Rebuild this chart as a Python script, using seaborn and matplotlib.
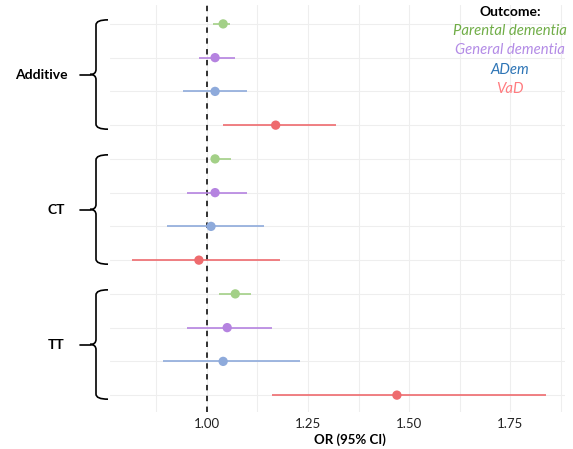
"""
Forest plot: OR (95% CI) per modello genetico ed esito.
"""

import matplotlib.pyplot as plt
import matplotlib.transforms as mtransforms
import numpy as np
import pandas as pd
import seaborn as sns
from matplotlib.path import Path
from matplotlib.patches import PathPatch

# Dati
models = ["Additive", "CT", "TT"]
outcomes = ["Parental dementia", "General dementia", "ADem", "VaD"]

or_additive = [1.04, 1.02, 1.02, 1.17]
lo_additive = [1.015, 0.98, 0.94, 1.04]
hi_additive = [1.057, 1.07, 1.10, 1.32]

or_ct = [1.02, 1.02, 1.01, 0.98]
lo_ct = [1.01, 0.95, 0.90, 0.815]
hi_ct = [1.06, 1.10, 1.14, 1.18]

or_tt = [1.07, 1.05, 1.04, 1.47]
lo_tt = [1.03, 0.95, 0.89, 1.16]
hi_tt = [1.11, 1.16, 1.23, 1.84]

x_ticks = [1.00, 1.25, 1.50, 1.75]

point_colors = ["#a3d087", "#b583e0", "#8eaadb", "#ee6b6e"]
legend_colors = ["#70ad47", "#b38be6", "#2e75b6", "#ff7c80"]

rows = []
for g, (m, ors, los, his) in enumerate(
    zip(models, [or_additive, or_ct, or_tt], [lo_additive, lo_ct, lo_tt], [hi_additive, hi_ct, hi_tt])
):
    for k, out in enumerate(outcomes):
        rows.append({"model": m, "outcome": out, "OR": ors[k], "lo": los[k], "hi": his[k], "pos": g * 4 + k})
df = pd.DataFrame(rows)

sns.set_theme(style="white")
plt.rcParams["font.family"] = ["Lato", "DejaVu Sans"]
plt.rcParams["text.color"] = "black"

W, H = 573, 449
fig = plt.figure(figsize=(W / 100, H / 100), dpi=100)
ax = fig.add_axes([110 / W, 1 - 412 / H, (565 - 110) / W, (412 - 5) / H])

# Griglia
for p in df["pos"]:
    ax.axhline(p, color="#eeeeee", lw=0.8, zorder=0)
for xv in np.arange(0.875, 1.9, 0.125):
    ax.axvline(xv, color="#eeeeee", lw=0.8, zorder=0)

ax.axvline(1.0, color="#222222", lw=1.3, ls=(0, (3, 3)), zorder=1)

palette = dict(zip(outcomes, point_colors))
for _, r in df.iterrows():
    ax.hlines(r["pos"], r["lo"], r["hi"], color=palette[r["outcome"]], lw=1.2, zorder=2)
sns.scatterplot(
    data=df, x="OR", y="pos", hue="outcome", palette=palette, s=45,
    edgecolor="none", legend=False, ax=ax, zorder=3,
)

ax.set_xlim(0.76, 1.886)
ax.set_ylim(11.5, -0.56)
ax.set_yticks([])
ax.set_xticks(x_ticks)
ax.set_xticklabels([f"{v:.2f}" for v in x_ticks], fontsize=9.5, color="#222222")
ax.tick_params(axis="x", length=0, pad=4)
ax.set_xlabel("OR (95% CI)", fontsize=9.5, fontweight="bold", labelpad=2, color="black")
ax.xaxis.set_label_coords((350 - 110) / (565 - 110), -0.052)
ax.set_ylabel("")
for s in ax.spines.values():
    s.set_visible(False)

# Parentesi graffe e etichette dei gruppi
trans = mtransforms.blended_transform_factory(fig.transFigure, ax.transData)
fx = lambda px: px / W
for g, m in enumerate(models):
    top = g * 4 - 0.12
    bot = g * 4 + 3 + 0.12
    mid = (top + bot) / 2
    xs, xb, xt = fx(108), fx(96), fx(90)
    verts = [
        (xs, top), (xb, top), (xb, top + 0.15),
        (xb, mid - 0.15),
        (xb, mid), (xt, mid),
        (xb, mid), (xb, mid + 0.15),
        (xb, bot - 0.15),
        (xb, bot), (xs, bot),
    ]
    codes = [Path.MOVETO, Path.CURVE3, Path.CURVE3, Path.LINETO,
             Path.CURVE3, Path.CURVE3, Path.CURVE3, Path.CURVE3,
             Path.LINETO, Path.CURVE3, Path.CURVE3]
    patch = PathPatch(Path(verts, codes), transform=trans, fill=False,
                      lw=1.2, color="black", clip_on=False)
    fig.add_artist(patch)
    fig.add_artist(plt.Line2D([fx(80), xt], [mid, mid], transform=trans, color="black", lw=1.2))
    label_x = fx(41) if m == "Additive" else fx(56)
    fig.text(label_x, mid, m, transform=trans, fontsize=10, fontweight="bold", ha="center", va="center")

# Legenda testuale
fig.text(510 / W, 1 - 12 / H, "Outcome:", fontsize=10, fontweight="bold", ha="center", va="center")
for k, (out, col) in enumerate(zip(outcomes, legend_colors)):
    fig.text(510 / W, 1 - (31 + k * 19.3) / H, out, fontsize=10.7, style="italic",
             color=col, ha="center", va="center")

fig.savefig("out.png", dpi=100)
